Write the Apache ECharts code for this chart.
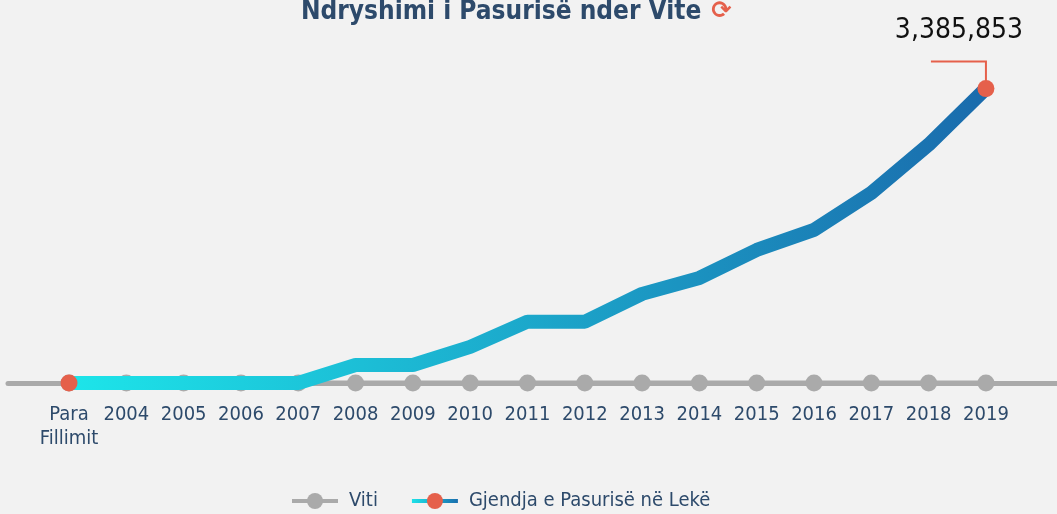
<!DOCTYPE html>
<html>
<head>
<meta charset="utf-8">
<script src="https://cdn.jsdelivr.net/npm/echarts@6/dist/echarts.min.js"></script>
<style>
  html, body { margin: 0; padding: 0; background: #f2f2f2; }
  #main { width: 1057px; height: 514px; }
</style>
</head>
<body>
<div id="main"></div>
<script>
var categories = ['Para\nFillimit', '2004', '2005', '2006', '2007', '2008', '2009', '2010',
  '2011', '2012', '2013', '2014', '2015', '2016', '2017', '2018', '2019'];
var wealth = [0, 0, 0, 0, 0, 207000, 207000, 415000, 705000, 705000, 1025000,
  1209000, 1530000, 1762000, 2188000, 2741000, 3385853];
var years = [0, 0, 0, 0, 0, 0, 0, 0, 0, 0, 0, 0, 0, 0, 0, 0, 0];

var FONT = '"DejaVu Sans Condensed", "Liberation Sans Narrow", sans-serif';
var NAVY = '#2d4a6b';
var RED = '#e5604b';

var chart = echarts.init(document.getElementById('main'));

var idx = categories.map(function (c, i) { return i; });
var last = wealth.length - 1;

var option = {
  backgroundColor: '#f2f2f2',
  animation: false,
  title: {
    text: 'Ndryshimi i Pasurisë nder Vite {i|⟳}',
    left: 296,
    top: -6,
    textStyle: {
      fontFamily: FONT,
      fontSize: 26,
      fontWeight: 'bold',
      color: NAVY,
      rich: {
        i: { color: RED, fontSize: 24, fontFamily: 'DejaVu Sans', padding: [0, 0, 0, 2] }
      }
    }
  },
  legend: {
    top: 486,
    left: 285,
    itemWidth: 46,
    itemHeight: 20,
    itemGap: 32,
    lineStyle: { width: 4 },
    textStyle: { fontFamily: FONT, fontSize: 20, color: NAVY, padding: [0, 0, 0, 6] },
    data: ['Viti', 'Gjendja e Pasurisë në Lekë']
  },
  grid: { left: 8, right: 0, top: 70, bottom: 131 },
  xAxis: {
    type: 'value',
    min: -1.065,
    max: 17.24,
    axisLine: { show: true, lineStyle: { color: '#aaaaaa', width: 5 } },
    axisTick: { show: false },
    splitLine: { show: false },
    axisLabel: {
      customValues: idx,
      formatter: function (v) { return categories[Math.round(v)]; },
      color: NAVY,
      fontFamily: FONT,
      fontSize: 20,
      lineHeight: 24,
      margin: 20
    }
  },
  yAxis: {
    type: 'value',
    min: 0,
    max: 3600000,
    show: false
  },
  series: [
    {
      name: 'Viti',
      type: 'line',
      data: years.map(function (v, i) { return [i, v]; }),
      symbol: 'circle',
      symbolSize: 17,
      itemStyle: { color: '#aaaaaa' },
      lineStyle: { color: '#aaaaaa', width: 5 },
      z: 2
    },
    {
      name: 'Gjendja e Pasurisë në Lekë',
      type: 'line',
      data: wealth.map(function (v, i) { return [i, v]; }),
      symbol: 'circle',
      symbolSize: function (v, p) {
        return (p.dataIndex === 0 || p.dataIndex === last) ? 17 : 0;
      },
      clip: false,
      itemStyle: { color: RED },
      lineStyle: {
        width: 14,
        color: new echarts.graphic.LinearGradient(0, 0, 1, 0, [
          { offset: 0, color: '#1de6ea' },
          { offset: 1, color: '#1a6aac' }
        ])
      },
      z: 3
    }
  ]
};

chart.setOption(option);

// callout for the last value
var pt = chart.convertToPixel({ gridIndex: 0 }, [last, wealth[last]]);
chart.setOption({
  graphic: [
    {
      type: 'polyline',
      z: 1,
      shape: { points: [[pt[0], pt[1]], [pt[0], pt[1] - 27], [pt[0] - 55, pt[1] - 27]] },
      style: { stroke: RED, lineWidth: 2, fill: null }
    },
    {
      type: 'text',
      x: pt[0] - 27,
      y: pt[1] - 44,
      style: {
        text: wealth[last].toLocaleString('en-US'),
        fontFamily: FONT,
        fontSize: 28,
        fill: '#111111',
        align: 'center',
        verticalAlign: 'bottom'
      }
    }
  ]
});
</script>
</body>
</html>
